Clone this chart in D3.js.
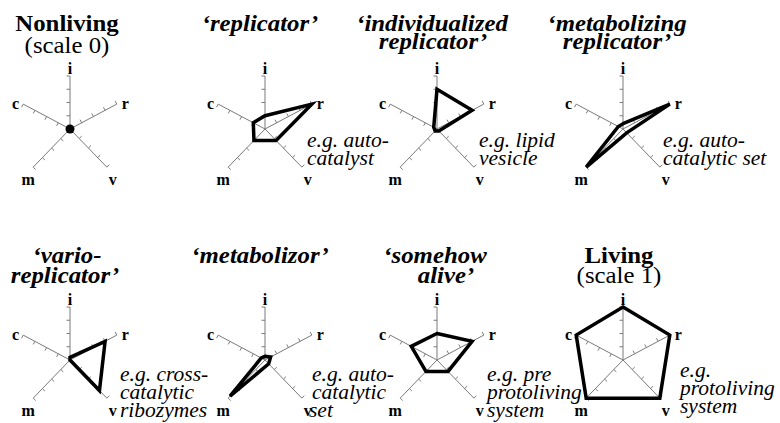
<!DOCTYPE html>
<html><head><script src="https://d3js.org/d3.v7.min.js"></script></head>
<body style="margin:0">
<svg width="780" height="423"></svg>
<script>
// the five axes, clockwise from top
var axes = ["i", "r", "v", "m", "c"];

var titles = [
  ["Nonliving", "(scale 0)"],
  ["\u2018replicator\u2019"],
  ["\u2018individualized", "replicator\u2019"],
  ["\u2018metabolizing", "replicator\u2019"],
  ["\u2018vario-", "replicator\u2019"],
  ["\u2018metabolizor\u2019"],
  ["\u2018somehow", "alive\u2019"],
  ["Living", "(scale 1)"]
];

var notes = [
  [],
  ["e.g. auto-", "catalyst"],
  ["e.g. lipid", "vesicle"],
  ["e.g. auto-", "catalytic set"],
  ["e.g. cross-", "catalytic", "ribozymes"],
  ["e.g. auto-", "catalytic", "set"],
  ["e.g. pre", "protoliving", "system"],
  ["e.g.", "protoliving", "system"]
];

// scores per panel, in axes order i, r, v, m, c
var scores = [
  [0, 0, 0, 0, 0],
  [0.25, 1, 0.3, 0.3, 0.25],
  [0.75, 0.75, 0.05, 0.05, 0.07],
  [0.1, 1, 0.1, 1, 0.1],
  [0.05, 0.75, 0.8, 0, 0],
  [0.07, 0.12, 0.1, 0.95, 0.08],
  [0.5, 0.75, 0.3, 0.3, 0.55],
  [1, 1, 1, 1, 1]
];

var tickValues = [0.25, 0.5, 0.75, 1];

// layout
var FONT = "'Liberation Serif'";
var colX = [70, 265, 437, 623];
var rowY = [129, 360];
var titleX = [[67, 67], [260], [432, 433], [617, 617], [67, 65], [260], [435, 446], [619, 619]];
var titleY = [[31, 53], [31], [31, 49], [31, 49], [263, 283], [263], [263, 283], [263, 283]];
var noteX = [0, 307, 479, 663, 120, 312, 487, 680];
var noteY = [0, 147, 147, 147, 381, 381, 381, 377];
var noteGap = 18;

var svg = d3.select("svg");

var r = d3.scaleLinear().domain([0, 1]).range([0, 53]);
var angle = d3.scaleOrdinal().domain(axes).range([0, 62, 136, -136, -62]);
var labelOff = { i: [0, -2, "middle"], r: [5, 5, "start"], c: [-4, 5, "end"], m: [-5, 18, "middle"], v: [6, 18, "middle"] };

function pt(a, v) {
  var rad = angle(a) * Math.PI / 180;
  return [Math.sin(rad) * r(v), -Math.cos(rad) * r(v)];
}

var shape = d3.lineRadial()
  .angle(function (d, i) { return angle(axes[i]) * Math.PI / 180; })
  .radius(function (d) { return r(d); })
  .curve(d3.curveLinearClosed);

scores.forEach(function (vals, k) {
  var cx = colX[k % 4], cy = rowY[Math.floor(k / 4)];
  var g = svg.append("g").attr("transform", "translate(" + cx + "," + cy + ")");

  var ax = g.selectAll(".axis").data(axes).enter().append("g")
    .attr("class", "axis").attr("stroke", "#7a7a7a").attr("stroke-width", 1);
  ax.append("line")
    .attr("x1", 0).attr("y1", 0)
    .attr("x2", function (a) { return pt(a, 1)[0]; })
    .attr("y2", function (a) { return pt(a, 1)[1]; });
  ax.each(function (a) {
    var rad = angle(a) * Math.PI / 180;
    var px = -Math.cos(rad) * 3.5, py = -Math.sin(rad) * 3.5;
    d3.select(this).selectAll(".tick").data(tickValues).enter().append("line")
      .attr("class", "tick")
      .attr("x1", function (t) { return pt(a, t)[0]; })
      .attr("y1", function (t) { return pt(a, t)[1]; })
      .attr("x2", function (t) { return pt(a, t)[0] + px; })
      .attr("y2", function (t) { return pt(a, t)[1] + py; });
  });

  g.selectAll(".axlabel").data(axes).enter().append("text")
    .attr("class", "axlabel")
    .style("font-family", FONT).style("font-size", "16px").style("font-weight", "bold")
    .attr("x", function (a) { return pt(a, 1)[0] + labelOff[a][0]; })
    .attr("y", function (a) { return pt(a, 1)[1] + labelOff[a][1]; })
    .attr("text-anchor", function (a) { return labelOff[a][2]; })
    .text(function (a) { return a; });

  if (d3.max(vals) === 0) {
    g.append("circle").attr("r", 4.5).attr("fill", "#000");
  } else {
    g.append("path").attr("d", shape(vals))
      .attr("fill", "none").attr("stroke", "#000")
      .attr("stroke-width", 3.5).attr("stroke-linejoin", "miter");
  }

  titles[k].forEach(function (t, j) {
    var plain = (k === 0 || k === 7);
    svg.append("text")
      .attr("transform", "translate(" + titleX[k][j] + "," + titleY[k][j] + ") scale(1.08,1)")
      .attr("text-anchor", "middle")
      .style("font-family", FONT)
      .style("font-size", "23px")
      .style("font-weight", (plain && j === 1) ? "normal" : "bold")
      .style("font-style", plain ? "normal" : "italic")
      .text(t);
  });

  notes[k].forEach(function (t, j) {
    svg.append("text")
      .attr("x", (k === 5 && j === 2) ? noteX[k] - 3 : noteX[k])
      .attr("y", noteY[k] + j * noteGap)
      .style("font-family", FONT)
      .style("font-size", "21.5px")
      .style("font-style", "italic")
      .text(t);
  });
});
</script>
</body>
</html>
